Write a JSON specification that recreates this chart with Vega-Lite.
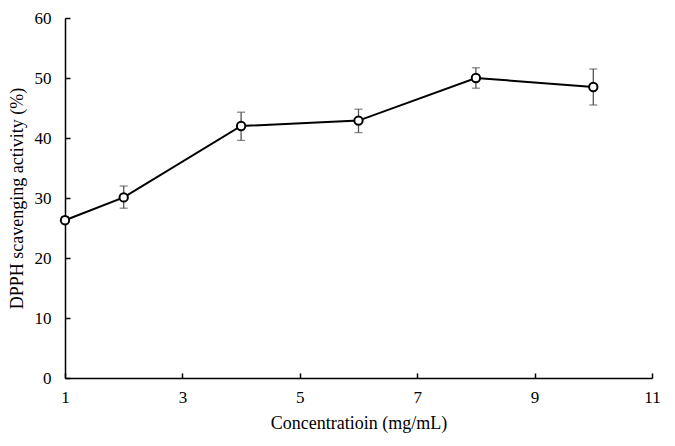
{
  "$schema": "https://vega.github.io/schema/vega-lite/v6.json",
  "autosize": "none",
  "width": 587,
  "height": 360,
  "padding": {"left": 65, "top": 18, "right": 23, "bottom": 68},
  "background": "white",
  "config": {
    "view": {"stroke": null},
    "axis": {
      "grid": false,
      "domainColor": "black",
      "domainWidth": 1.5,
      "tickColor": "black",
      "tickWidth": 1.5,
      "labelFont": "Liberation Serif",
      "labelFontSize": 17,
      "labelColor": "black",
      "labelFlush": false,
      "titleFont": "Liberation Serif",
      "titleFontSize": 18,
      "titleFontWeight": "normal",
      "titleColor": "black"
    }
  },
  "data": {
    "values": [
      {"conc": 1, "activity": 26.3, "lo": 25.7, "hi": 26.9},
      {"conc": 2, "activity": 30.1, "lo": 28.3, "hi": 32.0},
      {"conc": 4, "activity": 42.0, "lo": 39.6, "hi": 44.3},
      {"conc": 6, "activity": 42.9, "lo": 40.9, "hi": 44.8},
      {"conc": 8, "activity": 50.0, "lo": 48.3, "hi": 51.7},
      {"conc": 10, "activity": 48.5, "lo": 45.5, "hi": 51.5}
    ]
  },
  "encoding": {
    "x": {
      "field": "conc",
      "type": "quantitative",
      "scale": {"domain": [1, 11], "nice": false, "zero": false},
      "axis": {
        "values": [1, 3, 5, 7, 9, 11],
        "tickSize": -5,
        "labelPadding": 16,
        "title": "Concentratioin (mg/mL)",
        "titlePadding": 9
      }
    }
  },
  "layer": [
    {
      "mark": {"type": "rule", "color": "#555555", "strokeWidth": 1.3},
      "encoding": {
        "y": {"field": "lo", "type": "quantitative", "scale": {"domain": [0, 60], "nice": false},
          "axis": {
            "values": [0, 10, 20, 30, 40, 50, 60],
            "tickSize": -5,
            "labelPadding": 19,
            "title": "DPPH scavenging activity (%)",
            "titlePadding": 8
          }},
        "y2": {"field": "hi"}
      }
    },
    {
      "mark": {"type": "tick", "orient": "horizontal", "color": "#555555", "size": 8, "thickness": 1.3},
      "encoding": {"y": {"field": "lo", "type": "quantitative"}}
    },
    {
      "mark": {"type": "tick", "orient": "horizontal", "color": "#555555", "size": 8, "thickness": 1.3},
      "encoding": {"y": {"field": "hi", "type": "quantitative"}}
    },
    {
      "mark": {"type": "line", "color": "black", "strokeWidth": 2},
      "encoding": {"y": {"field": "activity", "type": "quantitative"}}
    },
    {
      "mark": {"type": "point", "shape": "circle", "filled": true, "fill": "white", "stroke": "black", "strokeWidth": 2, "size": 70, "opacity": 1},
      "encoding": {"y": {"field": "activity", "type": "quantitative"}}
    }
  ]
}
